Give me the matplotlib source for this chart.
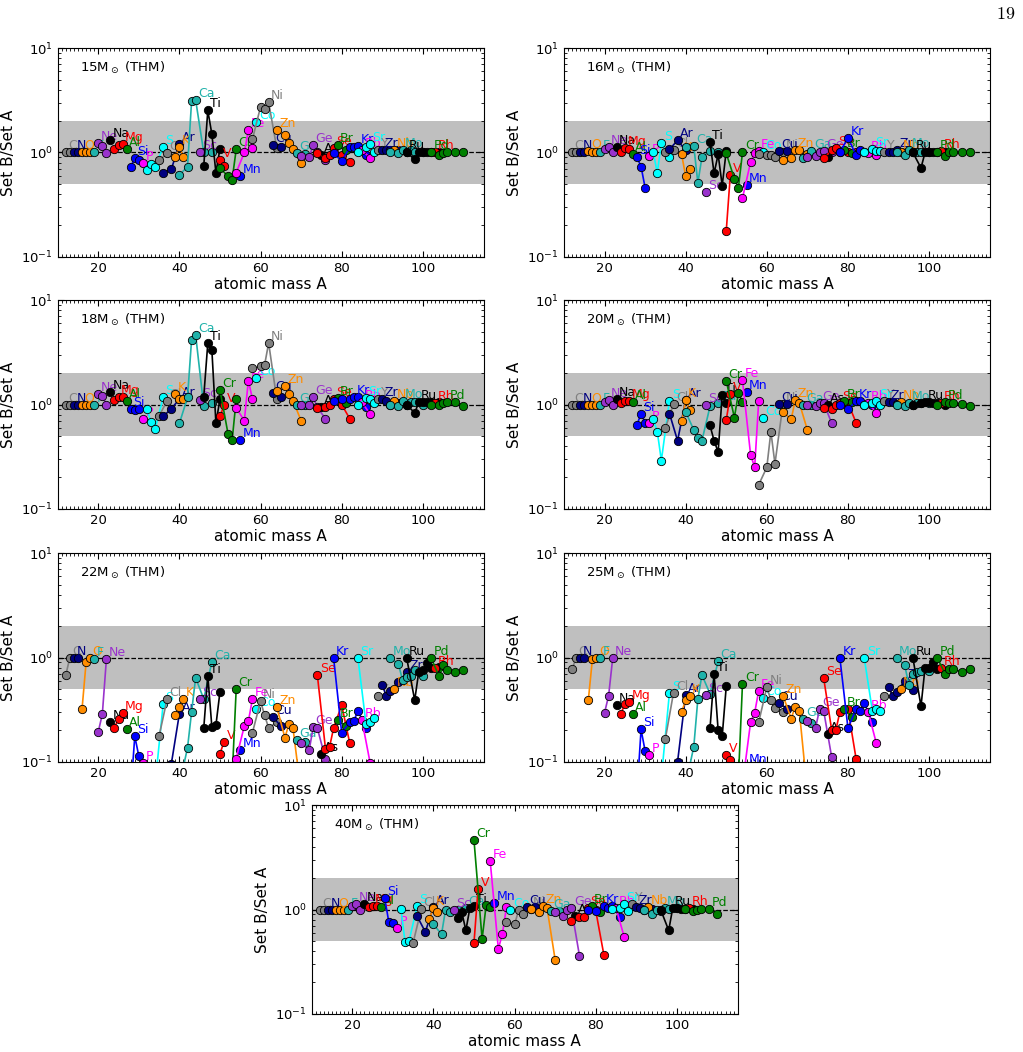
"""
Isotopic ratios Set B / Set A for the THM models (15-40 Msun)
"""
import numpy as np
import matplotlib
matplotlib.use('Agg')
import matplotlib.pyplot as plt
from matplotlib.ticker import MultipleLocator

#%%
#elements and their stable isotopes (Tc kept empty so the colour cycle stays in step)
elements = ['C', 'N', 'O', 'F', 'Ne', 'Na', 'Mg', 'Al', 'Si', 'P', 'S', 'Cl', 'Ar', 'K',
            'Ca', 'Sc', 'Ti', 'V', 'Cr', 'Mn', 'Fe', 'Co', 'Ni', 'Cu', 'Zn', 'Ga', 'Ge',
            'As', 'Se', 'Br', 'Kr', 'Rb', 'Sr', 'Y', 'Zr', 'Nb', 'Mo', 'Tc', 'Ru', 'Rh', 'Pd']

masses = [[12, 13], [14, 15], [16, 17, 18], [19], [20, 21, 22], [23], [24, 25, 26], [27],
          [28, 29, 30], [31], [32, 33, 34, 36], [35, 37], [36, 38, 40], [39, 40, 41],
          [40, 42, 43, 44, 46, 48], [45], [46, 47, 48, 49, 50], [50, 51], [50, 52, 53, 54],
          [55], [54, 56, 57, 58], [59], [58, 60, 61, 62, 64], [63, 65], [64, 66, 67, 68, 70],
          [69, 71], [70, 72, 73, 74, 76], [75], [74, 76, 77, 78, 80, 82], [79, 81],
          [78, 80, 82, 83, 84, 86], [85, 87], [84, 86, 87, 88], [89], [90, 91, 92, 94, 96],
          [93], [92, 94, 95, 96, 97, 98, 100], [], [96, 98, 99, 100, 101, 102, 104], [103],
          [102, 104, 105, 106, 108, 110]]

colors = ['gray', 'navy', 'darkorange', 'lightseagreen', 'darkorchid', 'black',
          'red', 'green', 'blue', 'magenta', 'cyan']

#%%
#ratios read per element, same order as masses
r15 = [[1.0, 1.0], [1.0, 1.0], [1.0, 1.0, 1.0], [1.0], [1.22, 1.15, 0.98], [1.31],
       [1.08, 1.18, 1.2], [1.07], [0.73, 0.88, 0.85], [0.8], [0.68, 0.77, 0.73, 1.12],
       [0.84, 0.98], [0.64, 0.69, 1.2], [0.91, 1.12, 0.91], [0.61, 0.73, 3.1, 3.2, 1.0, 1.0],
       [1.0], [0.74, 2.53, 1.5, 0.64, 1.09], [0.85, 0.75], [0.71, 0.59, 0.55, 1.07],
       [0.59], [0.64, 1.0, 1.63, 1.1], [1.97], [1.34, 2.74, 2.62, 3.02, 1.1], [1.17, 1.13],
       [1.64, 1.47, 1.22, 1.07, 0.8], [0.98, 0.96], [0.92, 0.91, 1.18, 1.0, 0.84], [0.94],
       [0.98, 0.88, 0.94, 1.1, 0.94, 0.81], [1.17, 1.05], [0.98, 0.83, 1.12, 1.12, 1.15, 0.94],
       [1.05, 0.89], [1.0, 1.13, 1.2, 1.0], [1.05], [1.05, 1.05, 1.05, 1.05, 1.0], [1.05],
       [1.0, 0.98, 1.05, 1.0, 1.05, 1.0, 1.0], [], [1.0, 0.86, 1.0, 1.0, 1.0, 1.0, 1.0],
       [1.02], [1.0, 0.95, 0.98, 1.0, 1.0, 1.0]]

r16 = [[1.0, 1.0], [1.0, 1.0], [1.03, 1.0, 1.0], [1.0], [1.08, 1.13, 1.0], [1.12],
       [1.0, 1.1, 1.08], [0.96], [0.9, 0.73, 0.46], [0.92], [1.0, 0.64, 1.22, 0.9],
       [1.0, 1.05], [1.07, 1.31, 1.05], [0.96, 0.59, 0.7], [1.13, 1.15, 0.51, 0.9, 1.04, 1.0],
       [0.42], [1.25, 0.63, 0.96, 0.48, 1.04], [0.177, 0.61], [0.98, 0.56, 0.46, 1.0],
       [0.49], [0.365, 0.81, 0.98, 1.04], [1.0], [0.96, 0.95, 0.95, 0.91, 1.0], [1.03, 1.03],
       [0.84, 0.88, 1.05, 1.05, 0.96], [0.89, 1.03], [0.9, 0.93, 1.0, 1.04, 1.0], [0.9],
       [0.88, 1.05, 1.1, 1.02, 1.0, 1.0], [1.05, 0.98], [1.0, 1.39, 0.94, 1.05, 1.0, 1.03],
       [0.98, 0.94], [1.0, 1.08, 1.03, 1.04], [1.0], [1.0, 1.0, 1.05, 1.0, 1.0], [1.0],
       [1.0, 0.94, 1.05, 1.0, 1.0, 1.0, 1.0], [], [1.0, 0.71, 1.0, 1.0, 1.0, 1.0, 1.0],
       [1.03], [1.0, 0.92, 1.0, 1.0, 1.0, 1.0]]

r18 = [[1.0, 1.0], [1.0, 1.0], [1.0, 1.0, 1.0], [1.0], [1.25, 1.22, 1.0], [1.31],
       [1.1, 1.19, 1.19], [1.09], [0.91, 0.88, 0.91], [0.72], [0.9, 0.68, 0.58, 1.17],
       [0.78, 1.09], [0.77, 0.91, 1.13], [1.27, 1.13, 1.12], [0.66, 1.17, 4.2, 4.66, 0.96, 1.03],
       [1.1], [1.19, 3.88, 3.35, 0.66, 1.13], [0.77, 0.98], [1.38, 0.52, 0.455, 1.12],
       [0.46], [0.93, 0.7, 1.7, 1.13], [1.79], [2.23, 2.33, 2.4, 3.9, 1.12], [1.29, 1.19],
       [1.36, 1.52, 1.27, 1.09, 0.7], [1.0, 1.0], [0.98, 0.98, 1.17, 0.94, 0.73], [0.94],
       [0.92, 0.94, 0.98, 1.13, 1.0, 0.73], [1.15, 1.03], [1.09, 1.13, 1.13, 1.17, 1.17, 0.94],
       [1.05, 0.81], [1.0, 1.15, 1.12, 1.03], [1.13], [1.12, 1.09, 1.0, 1.03, 1.0], [1.09],
       [1.0, 0.97, 1.09, 1.0, 1.05, 1.05, 1.0], [], [1.0, 0.83, 1.05, 1.05, 1.05, 1.05, 1.05],
       [1.03], [1.0, 1.0, 1.03, 1.05, 1.05, 0.97]]

r20 = [[1.0, 1.0], [1.0, 1.0], [1.0, 1.0, 1.0], [1.0], [1.05, 1.1, 1.0], [1.12],
       [1.04, 1.08, 1.09], [1.05], [0.64, 0.82, 0.67], [0.66], [0.72, 0.55, 0.29, 1.09],
       [0.6, 1.01], [0.82, 0.45, 1.1], [0.69, 1.1, 0.88], [0.85, 0.57, 0.48, 0.45, 0.96, 1.04],
       [0.98], [0.63, 0.45, 0.35, 1.23, 1.04], [0.71, 1.25], [1.69, 0.75, 1.29, 1.05],
       [1.32], [1.71, 0.33, 0.25, 1.08], [0.75], [0.17, 0.25, 0.55, 0.27, 1.02], [1.02, 1.02],
       [0.85, 0.72, 1.1, 1.04, 0.57], [0.98, 0.98], [0.98, 0.97, 1.04, 1.04, 0.66], [1.0],
       [0.92, 0.9, 1.0, 1.04, 1.04, 0.67], [1.08, 1.05], [0.98, 0.9, 1.08, 1.08, 0.98, 1.0],
       [1.04, 0.83], [0.98, 1.04, 1.09, 1.0], [1.08], [1.05, 1.05, 1.01, 0.98, 0.98], [1.05],
       [0.98, 0.97, 1.04, 0.98, 1.04, 1.04, 1.04], [], [0.98, 1.04, 1.05, 1.05, 1.04, 1.04, 1.0],
       [1.04], [0.98, 1.05, 1.04, 1.04, 1.01, 0.97]]

r22 = [[0.68, 1.0], [1.0, 1.0], [0.32, 0.9, 1.0], [0.96], [0.194, 0.286, 0.96], [0.24],
       [0.213, 0.26, 0.294], [0.205], [0.05, 0.176, 0.113], [0.098], [0.03, 0.04, 0.06, 0.36],
       [0.177, 0.404], [0.04, 0.095, 0.29], [0.28, 0.336, 0.4], [0.06, 0.136, 0.3, 0.64, 0.4, 0.91],
       [0.4], [0.21, 0.67, 0.216, 0.224, 0.47], [0.12, 0.155], [0.03, 0.05, 0.07, 0.5],
       [0.13], [0.107, 0.22, 0.245, 0.4], [0.32], [0.19, 0.38, 0.28, 0.21, 0.24], [0.27, 0.22],
       [0.336, 0.17, 0.23, 0.21, 0.05], [0.16, 0.155], [0.15, 0.13, 0.216, 0.21, 0.107], [0.12],
       [0.68, 0.134, 0.138, 0.21, 0.35, 0.15], [0.25, 0.22], [1.0, 0.19, 0.24, 0.245, 0.31, 0.21],
       [0.25, 0.098], [1.0, 0.23, 0.24, 0.265], [0.43], [0.54, 0.43, 0.48, 0.58, 0.72], [0.5],
       [1.0, 0.86, 0.61, 0.65, 0.67, 0.76, 0.67], [], [1.0, 0.39, 0.73, 0.76, 0.88, 0.8, 0.81],
       [0.8], [1.0, 0.66, 0.85, 0.76, 0.73, 0.76]]

r25 = [[0.77, 1.0], [1.0, 1.0], [0.39, 0.96, 1.0], [0.98], [0.295, 0.43, 0.98], [0.35],
       [0.285, 0.36, 0.375], [0.285], [0.05, 0.204, 0.127], [0.117], [0.03, 0.04, 0.07, 0.46],
       [0.167, 0.46], [0.04, 0.1, 0.44], [0.3, 0.39, 0.43], [0.06, 0.14, 0.4, 0.68, 0.45, 0.92],
       [0.44], [0.21, 0.69, 0.2, 0.176, 0.53], [0.117, 0.105], [0.03, 0.05, 0.07, 0.56],
       [0.092], [0.06, 0.24, 0.295, 0.48], [0.41], [0.24, 0.52, 0.39, 0.33, 0.3], [0.37, 0.32],
       [0.43, 0.26, 0.336, 0.31, 0.05], [0.255, 0.236], [0.245, 0.21, 0.32, 0.31, 0.11], [0.186],
       [0.64, 0.2, 0.2, 0.3, 0.32, 0.107], [0.32, 0.27], [1.0, 0.21, 0.32, 0.305, 0.37, 0.24],
       [0.3, 0.15], [1.0, 0.31, 0.32, 0.31], [0.43], [0.52, 0.43, 0.47, 0.6, 0.49], [0.5],
       [1.0, 0.84, 0.55, 0.7, 0.72, 0.75, 0.74], [], [1.0, 0.34, 0.8, 0.8, 0.9, 0.77, 0.74],
       [0.8], [1.0, 0.69, 0.77, 0.77, 0.73, 0.77]]

r40 = [[1.0, 1.0], [1.0, 1.0], [1.0, 1.0, 1.0], [0.99], [1.08, 1.12, 0.99], [1.12],
       [1.05, 1.08, 1.07], [1.05], [1.28, 0.76, 0.75], [0.67], [1.01, 0.49, 0.5, 1.08],
       [0.48, 1.01], [0.86, 0.61, 1.05], [0.81, 1.04, 0.94], [0.72, 0.58, 1.0, 0.94, 0.98, 1.04],
       [0.98], [0.82, 0.94, 0.63, 1.04, 1.08], [0.48, 1.56], [4.63, 0.52, 1.1, 1.05],
       [1.16], [2.9, 0.42, 0.58, 1.05], [1.0], [0.76, 0.72, 0.98, 0.9, 1.02], [1.05, 1.05],
       [1.01, 0.94, 1.08, 1.04, 0.33], [0.97, 0.97], [0.94, 0.86, 1.0, 1.03, 0.36], [0.86],
       [0.78, 0.85, 0.85, 1.04, 0.98, 0.37], [1.08, 0.94], [1.0, 0.97, 1.08, 1.04, 1.08, 0.85],
       [1.04, 0.55], [1.01, 1.04, 1.13, 0.97], [1.12], [1.05, 1.04, 1.0, 1.01, 0.97], [1.05],
       [1.0, 0.9, 1.0, 1.0, 1.04, 1.01, 1.04], [], [1.0, 0.63, 1.04, 1.04, 1.01, 1.01, 1.01],
       [1.04], [1.01, 0.97, 1.0, 1.01, 1.02, 0.9]]

models = ['15', '16', '18', '20', '22', '25', '40']
ratios = [r15, r16, r18, r20, r22, r25, r40]

#%%
#axes placement (figure fraction)
pos = [[0.0564, 0.756], [0.5513, 0.756], [0.0564, 0.5164], [0.5513, 0.5164],
       [0.0564, 0.2759], [0.5513, 0.2759], [0.3047, 0.0364]]
w, h = 0.4164, 0.1981

fig = plt.figure(figsize=(10.23, 10.52), dpi=100)

for m, data, (x0, y0) in zip(models, ratios, pos):
    ax = fig.add_axes([x0, y0, w, h])
    ax.axhspan(0.5, 2.0, color='0.75', lw=0, zorder=0)
    ax.axhline(1.0, color='k', ls='--', lw=0.9, zorder=1)

    for i, (el, A, r) in enumerate(zip(elements, masses, data)):
        if len(A) == 0:
            continue
        c = colors[i % len(colors)]
        ax.plot(A, r, '-o', color=c, mfc=c, mec='k', mew=0.6, ms=6, lw=1.2, zorder=2)
        #label the isotope with the largest ratio
        k = int(np.argmax(r))
        ax.text(A[k] + 0.6, r[k], el, color=c, fontsize=9, ha='left', va='bottom',
                clip_on=True, zorder=2)

    ax.text(0.052, 0.945, r'$\mathdefault{' + m + r'M_\odot}$ (THM)', transform=ax.transAxes,
            fontsize=9.5, va='top')

    ax.set_yscale('log')
    ax.set_ylim(0.1, 10)
    ax.set_xlim(10, 115)
    ax.set_xticks([20, 40, 60, 80, 100])
    ax.xaxis.set_minor_locator(MultipleLocator(1))
    ax.tick_params(which='both', direction='in', top=True, right=True, labelsize=9.5)
    ax.tick_params(which='major', length=4)
    ax.tick_params(which='minor', length=2)
    ax.set_xlabel('atomic mass A', fontsize=11, labelpad=2)
    ax.set_ylabel('Set B/Set A', fontsize=11)

#page number
fig.text(0.983, 0.987, r'$19$', math_fontfamily='cm', fontsize=13, ha='center', va='center')

fig.savefig('out.png', dpi=100)
